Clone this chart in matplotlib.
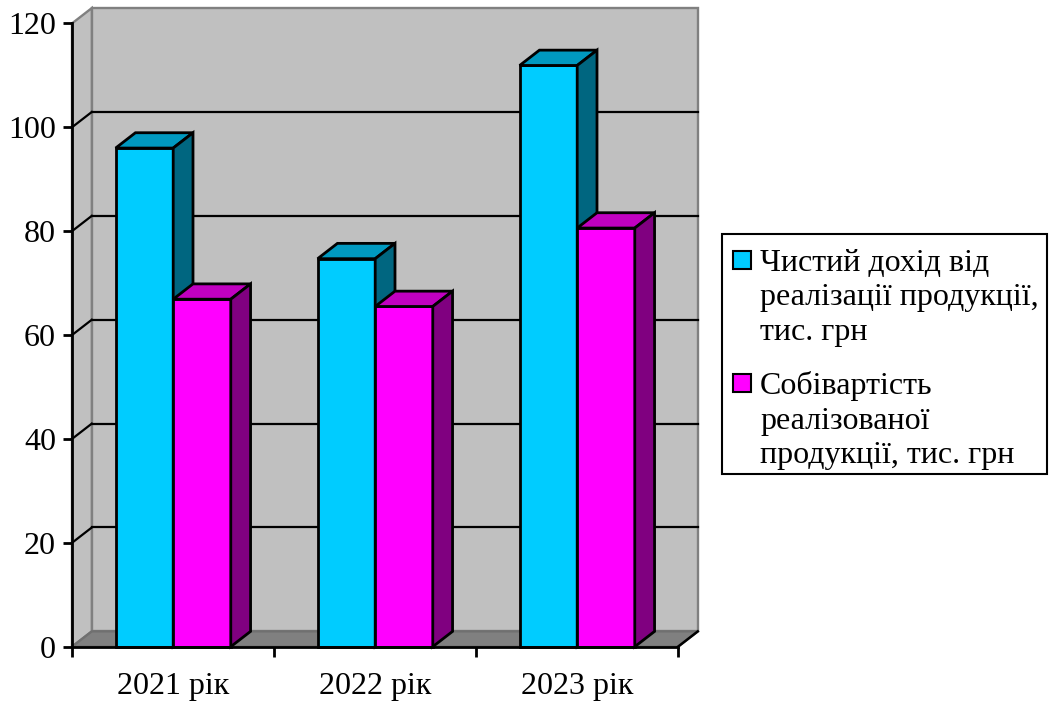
import matplotlib.pyplot as plt
from matplotlib.patches import Polygon, Rectangle

plt.rcParams['font.family'] = ['Liberation Serif', 'DejaVu Serif']

# data
years = ['2021 рік', '2022 рік', '2023 рік']
revenue = [96.0, 74.7, 111.9]
cost = [66.9, 65.5, 80.6]
series_names = ['Чистий дохід від\nреалізації продукції,\nтис. грн',
                'Собівартість\nреалізованої\nпродукції, тис. грн']

# colours: front, top, side
cyan = ('#00CCFF', '#0099C0', '#006680')
magenta = ('#FF00FF', '#C000C0', '#800080')
wall = '#C0C0C0'
floor = '#808080'
edge = '#808080'

W, H = 1049, 702
fig = plt.figure(figsize=(W / 100, H / 100), dpi=100)
ax = fig.add_axes([72 / W, 1 - 646.7 / H, 606 / W, 623.3 / H])
ax.set_xlim(0, 3)
ax.set_ylim(0, 120)
ax.set_facecolor('none')

dx, dy = 0.098, 2.95   # depth offset in data units
ymax = 120
n = len(years)

# walls and floor
ax.add_patch(Polygon([(dx, dy), (n + dx, dy), (n + dx, ymax + dy), (dx, ymax + dy)],
                     closed=True, fc=wall, ec=edge, lw=1.7, clip_on=False, zorder=0))
ax.add_patch(Polygon([(0, 0), (dx, dy), (dx, ymax + dy), (0, ymax)],
                     closed=True, fc=wall, ec=edge, lw=1.7, clip_on=False, zorder=0))
ax.add_patch(Polygon([(0, 0), (n, 0), (n + dx, dy), (dx, dy)],
                     closed=True, fc=floor, ec='#707070', lw=1.7, clip_on=False, zorder=0.5))
ax.plot([n, n + dx], [0, dy], color='black', lw=1.8, clip_on=False, zorder=0.6)

# gridlines on back and left walls
for v in range(20, ymax, 20):
    ax.plot([dx, n + dx], [v + dy, v + dy], color='black', lw=1.6, clip_on=False, zorder=1)
    ax.plot([0, dx], [v, v + dy], color='black', lw=1.6, clip_on=False, zorder=1)

# 3D bars
bw = 0.285
start = 0.216
z = 2
for i in range(n):
    for j, (vals, cols) in enumerate([(revenue, cyan), (cost, magenta)]):
        v = vals[i]
        x0 = i + start + j * bw
        x1 = x0 + bw
        ax.add_patch(Rectangle((x0, 0), bw, v, fc=cols[0], ec='black', lw=2.0,
                               joinstyle='miter', clip_on=False, zorder=z))
        ax.add_patch(Polygon([(x0, v), (x1, v), (x1 + dx, v + dy), (x0 + dx, v + dy)],
                             closed=True, fc=cols[1], ec='black', lw=2.0,
                             joinstyle='miter', clip_on=False, zorder=z))
        ax.add_patch(Polygon([(x1, 0), (x1 + dx, dy), (x1 + dx, v + dy), (x1, v)],
                             closed=True, fc=cols[2], ec='black', lw=2.0,
                             joinstyle='miter', clip_on=False, zorder=z))
        z += 0.1

# axes
for s in ['top', 'right']:
    ax.spines[s].set_visible(False)
for s in ['left', 'bottom']:
    ax.spines[s].set_linewidth(2.0)
    ax.spines[s].set_zorder(5)

ax.set_yticks(range(0, 121, 20))
ax.tick_params(axis='y', direction='out', length=6.5, width=2.0, pad=5, labelsize=23)
ax.set_xticks(range(0, n + 1))
ax.set_xticklabels([])
ax.set_xticks([i + 0.5 for i in range(n)], minor=True)
ax.set_xticklabels(years, minor=True)
ax.tick_params(axis='x', which='major', direction='out', length=7.2, width=2.0)
ax.tick_params(axis='x', which='minor', length=0, pad=18, labelsize=23)


# legend drawn by hand so the swatch sits on the first line
def fxy(x, y):
    return x / W, 1 - y / H


lx0, ly0 = fxy(722, 474)
lx1, ly1 = fxy(1047, 234)
fig.patches.append(Rectangle((lx0, ly0), lx1 - lx0, ly1 - ly0, transform=fig.transFigure,
                             fc='white', ec='black', lw=1.5))
line_h = 35.5
for k, (name, cols) in enumerate(zip(series_names, [cyan, magenta])):
    base = 269 + k * 123
    sx, sy = fxy(732.5, base)
    sw = 18.5 / W
    sh = 18.5 / H
    fig.patches.append(Rectangle((sx, sy), sw, sh, transform=fig.transFigure,
                                 fc=cols[0], ec='black', lw=1.5))
    # baseline alignment uses the last line of a multi-line text
    tx, ty = fxy(760, base + 2 * line_h)
    fig.text(tx, ty, name, fontsize=23, va='baseline', ha='left', linespacing=1.25)

fig.savefig('out.png', dpi=100, facecolor='white')
